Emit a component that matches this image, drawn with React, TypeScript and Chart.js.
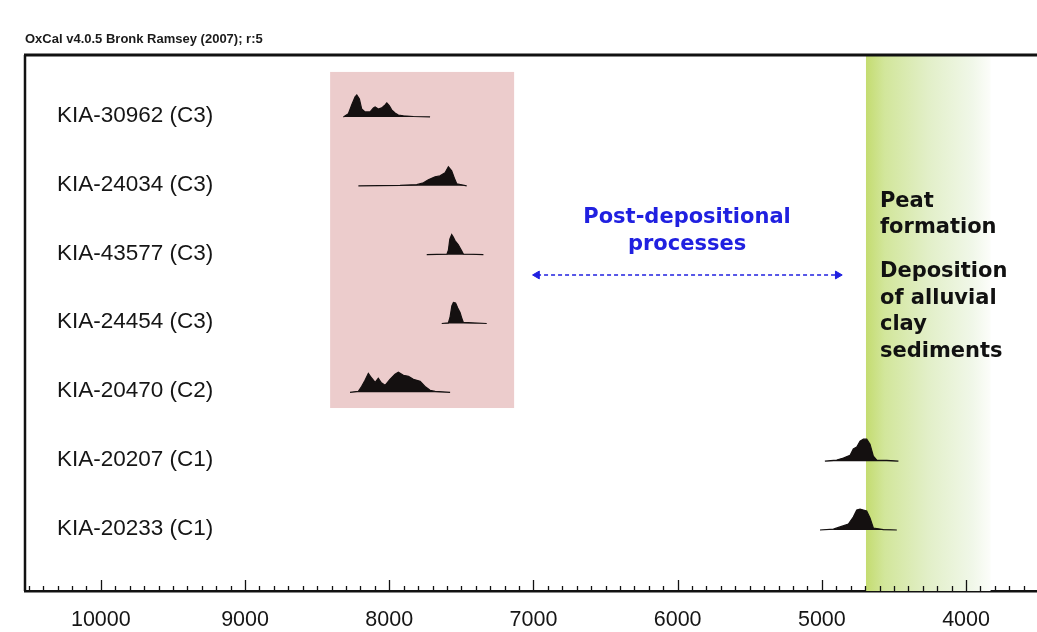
import React, { useEffect, useRef } from "react";
import { Chart, registerables } from "chart.js";

Chart.register(...registerables);

// ---- Data ----
const sampleLabels = [
  "KIA-30962 (C3)",
  "KIA-24034 (C3)",
  "KIA-43577 (C3)",
  "KIA-24454 (C3)",
  "KIA-20470 (C2)",
  "KIA-20207 (C1)",
  "KIA-20233 (C1)",
];

// [calendar year BP, relative probability]
const dist30962 = [
  [8318, 0], [8284, 0.14], [8260, 0.55], [8237, 0.91], [8225, 1.0], [8207, 0.82],
  [8191, 0.36], [8168, 0.23], [8133, 0.23], [8110, 0.41], [8098, 0.45], [8076, 0.36],
  [8052, 0.41], [8029, 0.55], [8017, 0.64], [7999, 0.5], [7983, 0.32], [7960, 0.18],
  [7937, 0.09], [7902, 0.05], [7833, 0.02], [7717, 0],
];
const dist24034 = [
  [8214, 0], [7925, 0.02], [7809, 0.05], [7763, 0.14], [7729, 0.27], [7682, 0.41],
  [7648, 0.45], [7613, 0.59], [7590, 0.86], [7567, 0.68], [7549, 0.36], [7532, 0.09],
  [7463, 0],
];
const dist43577 = [
  [7740, 0], [7600, 0.02], [7590, 0.2], [7580, 0.7], [7567, 0.91], [7556, 0.8],
  [7544, 0.64], [7521, 0.45], [7498, 0.18], [7486, 0.03], [7347, 0],
];
const dist24454 = [
  [7636, 0], [7590, 0.03], [7578, 0.3], [7566, 0.8], [7555, 0.95], [7540, 0.93],
  [7525, 0.7], [7509, 0.5], [7495, 0.2], [7486, 0.05], [7324, 0],
];
const dist20470 = [
  [8272, 0], [8214, 0.05], [8191, 0.27], [8168, 0.55], [8145, 0.86], [8121, 0.64],
  [8098, 0.45], [8076, 0.64], [8057, 0.45], [8029, 0.32], [7995, 0.59], [7960, 0.82],
  [7937, 0.91], [7902, 0.77], [7867, 0.73], [7833, 0.59], [7786, 0.5], [7752, 0.27],
  [7717, 0.09], [7682, 0.04], [7578, 0],
];
const dist20207 = [
  [4979, 0], [4897, 0.05], [4851, 0.14], [4804, 0.27], [4782, 0.55], [4758, 0.64],
  [4735, 0.91], [4712, 1.0], [4689, 1.0], [4666, 0.77], [4643, 0.23], [4619, 0.05],
  [4550, 0.04], [4469, 0],
];
const dist20233 = [
  [5013, 0], [4920, 0.04], [4874, 0.14], [4816, 0.27], [4782, 0.59], [4758, 0.91],
  [4735, 0.95], [4712, 0.91], [4689, 0.86], [4666, 0.55], [4643, 0.09], [4573, 0.02],
  [4480, 0],
];
const distributions = [dist30962, dist24034, dist43577, dist24454, dist20470, dist20207, dist20233];

const xTickValues = [10000, 9000, 8000, 7000, 6000, 5000, 4000];
const xRange = [3508, 10526];

// shaded periods (years BP)
const pinkSpan = [8410, 7134];
const greenSpan = [4694, 3830];
// post-depositional arrow span (years BP)
const arrowSpan = [6975, 4890];

const titleText = "OxCal v4.0.5 Bronk Ramsey (2007); r:5";
const postLabel = ["Post-depositional", "processes"];
const peatLabel = ["Peat", "formation"];
const depoLabel = ["Deposition", "of alluvial", "clay", "sediments"];

// ---- Layout / style constants ----
const Y_MIN = -0.9;
const Y_MAX = 6.886;
const PEAK = 0.32; // row units for relative probability 1
const PINK_ROWS = [-0.654, 4.228];
const ARROW_ROW = 2.2955;
const POST_ROW = 1.54;
const PEAT_ROW = 1.3076;
const DEPO_ROW = 2.3246;
const POST_X = 5935;
const RIGHT_TEXT_X = 4597;
const INK = "#141010";
const BLUE = "#2020e0";

const overlayPlugin = {
  id: "oxcalOverlay",
  beforeDatasetsDraw(chart: any) {
    const { ctx, chartArea: ca, scales } = chart;
    const x = scales.x;
    const y = scales.y;
    ctx.save();
    // pink box
    const p1 = x.getPixelForValue(pinkSpan[0]);
    const p2 = x.getPixelForValue(pinkSpan[1]);
    const q1 = y.getPixelForValue(PINK_ROWS[0]);
    const q2 = y.getPixelForValue(PINK_ROWS[1]);
    ctx.fillStyle = "#ecccCC";
    ctx.fillRect(Math.min(p1, p2), q1, Math.abs(p2 - p1), q2 - q1);
    // green band
    const g1 = x.getPixelForValue(greenSpan[0]);
    const g2 = x.getPixelForValue(greenSpan[1]);
    const grad = ctx.createLinearGradient(g1, 0, g2, 0);
    grad.addColorStop(0, "rgb(196,220,112)");
    grad.addColorStop(0.15, "rgb(210,230,155)");
    grad.addColorStop(0.5, "rgb(226,239,200)");
    grad.addColorStop(0.85, "rgb(240,247,232)");
    grad.addColorStop(1, "rgb(252,253,250)");
    ctx.fillStyle = grad;
    ctx.fillRect(g1, ca.top, g2 - g1, ca.bottom - ca.top);
    ctx.restore();
  },
  afterDatasetsDraw(chart: any) {
    const { ctx, chartArea: ca, scales } = chart;
    const x = scales.x;
    const y = scales.y;
    ctx.save();
    // frame: top and left
    ctx.strokeStyle = "#111";
    ctx.lineWidth = 3;
    ctx.beginPath();
    ctx.moveTo(ca.left - 1, ca.top);
    ctx.lineTo(ca.right, ca.top);
    ctx.stroke();
    ctx.lineWidth = 2.5;
    ctx.beginPath();
    ctx.moveTo(ca.left, ca.top);
    ctx.lineTo(ca.left, ca.bottom);
    ctx.stroke();
    // inward ticks along the time axis
    ctx.lineWidth = 1.3;
    const lo = Math.ceil(Math.min(xRange[0], xRange[1]) / 100) * 100;
    const hi = Math.max(xRange[0], xRange[1]);
    for (let v = lo; v <= hi; v += 100) {
      const px = Math.round(x.getPixelForValue(v)) + 0.5;
      const len = v % 1000 === 0 ? 11 : 5;
      ctx.beginPath();
      ctx.moveTo(px, ca.bottom);
      ctx.lineTo(px, ca.bottom - len);
      ctx.stroke();
    }
    // sample labels
    ctx.fillStyle = "#151515";
    ctx.font = '22.5px "Liberation Sans", Arial, sans-serif';
    ctx.textAlign = "left";
    ctx.textBaseline = "alphabetic";
    sampleLabels.forEach((lab, i) => {
      ctx.fillText(lab, ca.left + 32, y.getPixelForValue(i) + 5);
    });
    // blue annotation
    ctx.fillStyle = BLUE;
    ctx.font = 'bold 21px "DejaVu Sans", Verdana, sans-serif';
    ctx.textAlign = "center";
    const pxPost = x.getPixelForValue(POST_X);
    const pyPost = y.getPixelForValue(POST_ROW);
    postLabel.forEach((t, k) => ctx.fillText(t, pxPost, pyPost + k * 27));
    // right annotations
    ctx.fillStyle = "#111";
    ctx.textAlign = "left";
    const pxR = x.getPixelForValue(RIGHT_TEXT_X);
    const pyPeat = y.getPixelForValue(PEAT_ROW);
    peatLabel.forEach((t, k) => ctx.fillText(t, pxR, pyPeat + k * 26.5));
    const pyDepo = y.getPixelForValue(DEPO_ROW);
    depoLabel.forEach((t, k) => ctx.fillText(t, pxR, pyDepo + k * 26.6));
    ctx.restore();
  },
};

export default function App() {
  const canvasRef = useRef<HTMLCanvasElement | null>(null);

  useEffect(() => {
    document.body.style.margin = "0";
    document.body.style.background = "#ffffff";
    const canvas = canvasRef.current;
    if (!canvas) return;

    const distSets = distributions.map((dist, i) => ({
      label: sampleLabels[i],
      data: dist.map(([yr, p]) => ({ x: yr, y: i - p * PEAK })),
      borderColor: INK,
      backgroundColor: INK,
      borderWidth: 1.2,
      pointRadius: 0,
      tension: 0,
      fill: { value: i },
      order: 1,
    }));

    const arrowSet = {
      label: "arrow",
      data: arrowSpan.map((v) => ({ x: v, y: ARROW_ROW })),
      borderColor: BLUE,
      backgroundColor: BLUE,
      borderWidth: 1.6,
      borderDash: [4, 3],
      pointStyle: "triangle",
      pointRadius: 4.5,
      pointRotation: [-90, 90],
      pointBackgroundColor: BLUE,
      pointBorderColor: BLUE,
      pointBorderWidth: 1,
      fill: false,
      order: 0,
    };

    const chart = new Chart(canvas, {
      type: "line",
      data: { datasets: [...distSets, arrowSet] as any },
      options: {
        animation: false,
        responsive: false,
        devicePixelRatio: 1,
        events: [],
        layout: { autoPadding: false, padding: { left: 25, right: 0, top: 0, bottom: 0 } },
        plugins: {
          legend: { display: false },
          tooltip: { enabled: false },
          title: {
            display: true,
            text: titleText,
            align: "start",
            color: "#1a1a1a",
            font: { family: '"Liberation Sans", Arial, sans-serif', size: 13, weight: "bold", lineHeight: 1.2 },
            padding: { top: 31.2, bottom: 8.2 },
          },
        },
        scales: {
          x: {
            type: "linear",
            reverse: true,
            min: xRange[0],
            max: xRange[1],
            afterBuildTicks: (axis: any) => {
              axis.ticks = xTickValues.map((v) => ({ value: v }));
            },
            afterFit: (axis: any) => {
              axis.height = 41;
              axis.paddingLeft = 0;
              axis.paddingRight = 0;
              axis.paddingTop = 0;
              axis.paddingBottom = 0;
            },
            ticks: {
              autoSkip: false,
              maxRotation: 0,
              color: "#151515",
              padding: 18.5,
              font: { family: '"Liberation Sans", Arial, sans-serif', size: 21.5, lineHeight: 1 },
              callback: (v: any) => String(v),
            },
            grid: { display: false, drawTicks: false },
            border: { display: true, color: "#111", width: 2.5 },
          },
          y: {
            type: "linear",
            display: false,
            reverse: true,
            min: Y_MIN,
            max: Y_MAX,
          },
        },
      },
      plugins: [overlayPlugin],
    } as any);

    return () => chart.destroy();
  }, []);

  return (
    <div style={{ width: 1037, height: 632, background: "#fff" }}>
      <canvas ref={canvasRef} width={1037} height={632} style={{ display: "block" }} />
    </div>
  );
}
